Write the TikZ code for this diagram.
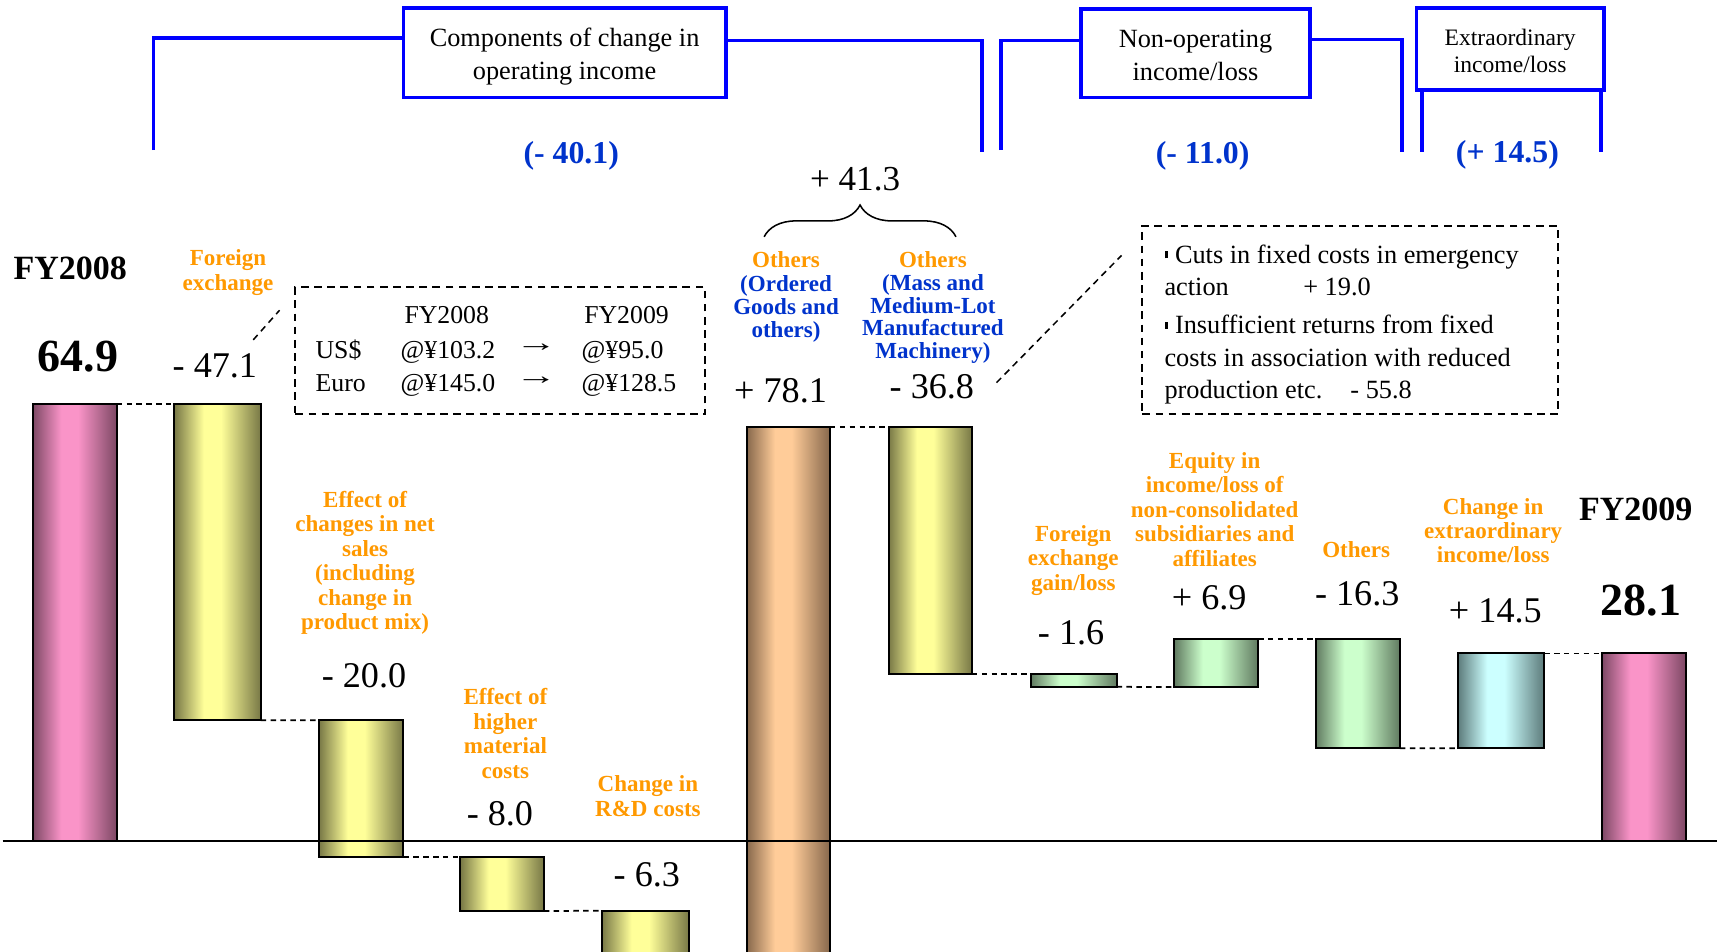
\documentclass[tikz,border=0pt]{standalone}
\usepackage{fontspec}
\setmainfont{Liberation Serif}
\usetikzlibrary{decorations.pathreplacing}
\newcommand\fs[2]{\fontsize{#1}{#2}\selectfont}
\definecolor{orng}{RGB}{255,153,0}
\definecolor{tblue}{RGB}{0,51,204}
\definecolor{lblue}{RGB}{0,0,255}
\definecolor{pkD}{RGB}{125,72,100}\definecolor{pkL}{RGB}{250,148,200}
\definecolor{ylD}{RGB}{120,120,70}\definecolor{ylL}{RGB}{255,255,153}
\definecolor{orD}{RGB}{135,104,76}\definecolor{orL}{RGB}{255,204,153}
\definecolor{grD}{RGB}{96,122,96}\definecolor{grL}{RGB}{204,255,204}
\definecolor{cyD}{RGB}{92,122,122}\definecolor{cyL}{RGB}{204,255,255}
\pgfdeclarehorizontalshading{pinksh}{100bp}{color(0bp)=(pkD); color(25bp)=(pkD); color(42bp)=(pkL); color(52bp)=(pkL); color(75bp)=(pkD); color(100bp)=(pkD)}
\pgfdeclarehorizontalshading{yelsh}{100bp}{color(0bp)=(ylD); color(25bp)=(ylD); color(42bp)=(ylL); color(52bp)=(ylL); color(75bp)=(ylD); color(100bp)=(ylD)}
\pgfdeclarehorizontalshading{orasc}{100bp}{color(0bp)=(orD); color(25bp)=(orD); color(42bp)=(orL); color(52bp)=(orL); color(75bp)=(orD); color(100bp)=(orD)}
\pgfdeclarehorizontalshading{grnsh}{100bp}{color(0bp)=(grD); color(25bp)=(grD); color(42bp)=(grL); color(52bp)=(grL); color(75bp)=(grD); color(100bp)=(grD)}
\pgfdeclarehorizontalshading{cyash}{100bp}{color(0bp)=(cyD); color(25bp)=(cyD); color(42bp)=(cyL); color(52bp)=(cyL); color(75bp)=(cyD); color(100bp)=(cyD)}
\newcommand\bul{\raisebox{0.19em}{\rule{0.15em}{0.27em}}\hspace{0.25em}}
\begin{document}
\begin{tikzpicture}[x=1pt,y=-1pt,
  bar/.style={draw=black, line width=1.8pt, shade, inner sep=0pt, outer sep=0pt, anchor=north west},
  conn/.style={draw, dash pattern=on 5pt off 4pt, line width=1.6pt},
  dbox/.style={draw, dash pattern=on 7pt off 5pt, line width=1.8pt, inner sep=0pt},
  dline/.style={draw, dash pattern=on 6pt off 4.5pt, line width=1.4pt},
  bbox/.style={draw=lblue, line width=3.5pt, inner sep=0pt},
  btxt/.style={align=center, inner sep=0pt, font=\fs{24}{30}},
  bline/.style={draw=lblue, line width=3.5pt},
  lbl/.style={font=\bfseries\fs{21}{22.3}, text=orng, align=center, inner sep=0pt},
  num/.style={font=\fs{33}{36}, inner sep=0pt, text height=22.4pt, text depth=0pt},
  bnum/.style={font=\bfseries\fs{29}{30}, text=tblue, inner sep=0pt, text height=19.7pt, text depth=0pt},
  bt/.style={font=\fs{23.5}{28}, inner sep=0pt, text height=16pt, text depth=0pt},
  arr/.style={font=\fs{24}{28}, inner sep=0pt},
  rt/.style={font=\fs{24}{28}, inner sep=0pt, text height=16.3pt, text depth=0pt, anchor=west}]
\useasboundingbox (0,0) rectangle (1568,868);
\fill[white] (0,0) rectangle (1568,868);

% header boxes and brackets
\node[bbox, minimum width=294pt, minimum height=82pt] (h1) at (515,48) {};
\node[btxt] (h1t) at (515,51.5) {Components of change in\\operating income};
\node[bbox, minimum width=209pt, minimum height=81pt] (h2) at (1090.5,48.5) {};
\node[btxt] (h2t) at (1090.5,50.5) {Non-operating\\income/loss};
\node[bbox, minimum width=171pt, minimum height=75pt] (h3) at (1377.5,44.5) {};
\node[btxt, font=\fs{21.5}{25}] (h3t) at (1377.5,46.5) {Extraordinary\\income/loss};
\coordinate (p1) at (140,137); \coordinate (p1t) at (140,35);
\draw[bline] (p1) -- (p1t) -- (p1t -| h1.west);
\coordinate (p2) at (895.5,139); \coordinate (p2t) at (895.5,37);
\draw[bline] (h1.east |- p2t) -- (p2t) -- (p2);
\coordinate (p3) at (913,137); \coordinate (p3t) at (913,37);
\draw[bline] (p3) -- (p3t) -- (p3t -| h2.west);
\coordinate (p4) at (1279,139); \coordinate (p4t) at (1279,36);
\draw[bline] (h2.east |- p4t) -- (p4t) -- (p4);
\coordinate (p5) at (1297,139); \coordinate (p6) at (1460,139);
\draw[bline] (h3.south -| p5) -- (p5);
\draw[bline] (h3.south -| p6) -- (p6);
\node[bnum] (n1) at (521,139) {(- 40.1)};
\node[bnum] (n2) at (1097,139) {(- 11.0)};
\node[bnum] (n3) at (1375,138) {(+ 14.5)};

% bars
\node[bar, shading=pinksh, minimum width=76.6pt, minimum height=398.2pt] (b1) at (29.8,368.8) {};
\node[bar, shading=yelsh, minimum width=78.8pt, minimum height=288.2pt] (b2) at (159,368.8) {};
\node[bar, shading=yelsh, minimum width=77pt, minimum height=125pt] (b3) at (291,657) {};
\node[bar, shading=yelsh, minimum width=76pt, minimum height=49pt] (b4) at (420,782) {};
\node[bar, shading=yelsh, minimum width=79.5pt, minimum height=50pt] (b5) at (549,830.7) {};
\node[bar, shading=orasc, minimum width=76pt, minimum height=491pt] (b6) at (681,389.5) {};
\node[bar, shading=yelsh, minimum width=76pt, minimum height=225.5pt] (b7) at (810.5,389.5) {};
\node[bar, shading=grnsh, minimum width=78.5pt, minimum height=11.5pt] (b8) at (940,615) {};
\node[bar, shading=grnsh, minimum width=76.5pt, minimum height=43.4pt] (b9) at (1071,583.2) {};
\node[bar, shading=grnsh, minimum width=77pt, minimum height=99.4pt] (b10) at (1200,583.2) {};
\node[bar, shading=cyash, minimum width=79pt, minimum height=86.6pt] (b11) at (1329.6,596) {};
\node[bar, shading=pinksh, minimum width=76.6pt, minimum height=171pt] (b12) at (1461,596) {};

% axis
\coordinate (ax1) at (2.5,767); \coordinate (ax2) at (1566,767);
\draw[line width=1.3pt] (ax1) -- (ax2);

% connectors
\draw[conn] (b1.north east) -- (b2.north west);
\draw[conn] (b2.south east) -- (b3.north west);
\draw[conn] (b3.south east) -- (b4.north west);
\draw[conn] (b4.south east) -- (b5.north west);
\draw[conn] (b6.north east) -- (b7.north west);
\draw[conn] (b7.south east) -- (b8.north west);
\draw[conn] (b8.south east) -- (b9.south west);
\draw[conn] (b9.north east) -- (b10.north west);
\draw[conn] (b10.south east) -- (b11.south west);
\draw[conn] (b11.north east) -- (b12.north west);

% totals
\node[font=\bfseries\fs{31}{31}, inner sep=0pt] (fy8) at (64,245) {FY2008};
\node[font=\bfseries\fs{42}{42}, inner sep=0pt] (v0) at (71,325) {64.9};
\node[font=\bfseries\fs{31}{31}, inner sep=0pt] (fy9) at (1492,465) {FY2009};
\node[font=\bfseries\fs{42}{42}, inner sep=0pt] (v13) at (1497,548) {28.1};

% labels
\node[lbl] (l1) at (208,248.5) {Foreign\\exchange};
\node[lbl] (l2) at (333,513.5) {Effect of\\changes in net\\sales\\(including\\change in\\product mix)};
\node[lbl] (l3) at (461,669) {Effect of\\higher\\material\\costs};
\node[lbl] (l4) at (591,726) {Change in\\R\&D costs};
\node[lbl, text=tblue, font=\bfseries\fs{21}{21.2}] (l5) at (717,271) {\textcolor{orng}{Others}\\(Ordered\\Goods and\\others)};
\node[lbl, text=tblue, font=\bfseries\fs{21}{20.8}] (l6) at (851,280.5) {\textcolor{orng}{Others}\\(Mass and\\Medium-Lot\\Manufactured\\Machinery)};
\node[lbl] (l7) at (979,511) {Foreign\\exchange\\gain/loss};
\node[lbl] (l8) at (1108,464.5) {Equity in\\income/loss of\\non-consolidated\\subsidiaries and\\affiliates};
\node[lbl] (l9) at (1237,501) {Others};
\node[lbl] (l10) at (1362,484) {Change in\\extraordinary\\income/loss};

% values
\node[num] (v1) at (196,333) {- 47.1};
\node[num] (v2) at (332,616) {- 20.0};
\node[num] (v3) at (456,742) {- 8.0};
\node[num] (v4) at (590,797) {- 6.3};
\node[num] (v5) at (712,356) {+ 78.1};
\node[num] (v6) at (850,352) {- 36.8};
\node[num] (v7) at (977,577) {- 1.6};
\node[num] (v8) at (1103,545) {+ 6.9};
\node[num] (v9) at (1238,541) {- 16.3};
\node[num] (v10) at (1364,557) {+ 14.5};
\node[num, font=\fs{32}{34}, text height=21.7pt] (v11) at (780,163) {+ 41.3};

% brace
\coordinate (bL) at (697,216); \coordinate (bR) at (872,216);
\draw[decorate, decoration={brace, amplitude=29pt}, line width=1.4pt] (bL) -- (bR);

% exchange-rate box
\node[dbox, minimum width=374pt, minimum height=116pt] (fxbox) at (456.5,320) {};
\node[bt] (x1) at (407.5,287.5) {FY2008};
\node[bt] (x2) at (571.5,287.5) {FY2009};
\node[bt, anchor=west] (x3) at (287.7,319) {US\$};
\node[bt, anchor=west] (x4) at (365.3,319) {@¥103.2};
\node[arr] (x5) at (489,317) {\scalebox{1.6}[1]{→}};
\node[bt, anchor=west] (x6) at (530.4,319) {@¥95.0};
\node[bt, anchor=west] (x7) at (287.7,349.5) {Euro};
\node[bt, anchor=west] (x8) at (365.3,349.5) {@¥145.0};
\node[arr] (x9) at (489,347.5) {\scalebox{1.6}[1]{→}};
\node[bt, anchor=west] (x10) at (530.4,349.5) {@¥128.5};
\coordinate (q1) at (231,310); \coordinate (q2) at (255,283);
\draw[dline] (q1) -- (q2);

% fixed-cost box
\node[dbox, minimum width=379pt, minimum height=172pt] (fcbox) at (1231.5,292) {};
\node[rt] (c1) at (1062,232) {\bul Cuts in fixed costs in emergency};
\node[rt] (c2) at (1062,261) {action};
\node[rt] (c3) at (1188.6,261) {+ 19.0};
\node[rt] (c4) at (1062,296.5) {\bul Insufficient returns from fixed};
\node[rt] (c5) at (1062,326.5) {costs in association with reduced};
\node[rt] (c6) at (1062,355.5) {production etc.};
\node[rt] (c7) at (1231.6,355.5) {- 55.8};
\coordinate (q3) at (909,349); \coordinate (q4) at (1023,233);
\draw[dline] (q3) -- (q4);
\end{tikzpicture}
\end{document}
